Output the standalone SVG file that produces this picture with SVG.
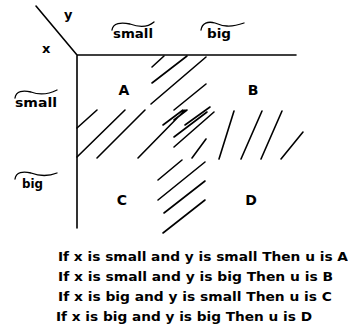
<svg xmlns="http://www.w3.org/2000/svg" width="348" height="325" viewBox="0 0 348 325">
<style>
.ax{stroke:#000;stroke-width:1.6;fill:none;stroke-linecap:round}
.h{stroke:#000;stroke-width:1.6;fill:none;stroke-linecap:round}
.t{stroke:#000;stroke-width:1.3;fill:none;stroke-linecap:round}
.lbl{font-family:"DejaVu Sans",sans-serif;font-weight:bold;font-size:13px;fill:#000}
.cell{font-family:"DejaVu Sans",sans-serif;font-weight:bold;font-size:14px;fill:#000;text-anchor:middle}
.rule{font-family:"DejaVu Sans",sans-serif;font-weight:bold;font-size:13px;fill:#000}
</style>
<rect width="348" height="325" fill="#fff"/>
<g id="axes">
<path class="ax" d="M36,6 L77,55 L296,55 M77,55 L77,228"/>
</g>
<g id="axis-labels">
<text class="lbl" x="64" y="19">y</text>
<text class="lbl" x="42" y="53">x</text>
</g>
<g id="col-small">
<path class="t" d="M112,30 C113,23 121,22 130,24 C138,27 147,28 154,22"/>
<text class="lbl" x="113" y="38" textLength="40" lengthAdjust="spacingAndGlyphs">small</text>
</g>
<g id="col-big">
<path class="t" d="M201,30 C202,23 208,21 215,23 C222,26 230,28 244,23"/>
<text class="lbl" x="207" y="38" textLength="24" lengthAdjust="spacingAndGlyphs">big</text>
</g>
<g id="row-small">
<path class="t" d="M15,98 C16,91 23,90 31,92 C39,95 47,95 57,90"/>
<text class="lbl" x="15" y="107" textLength="42" lengthAdjust="spacingAndGlyphs">small</text>
</g>
<g id="row-big">
<path class="t" d="M15,179 C16,172 23,171 31,173 C39,176 47,177 57,173"/>
<text class="lbl" x="22" y="188" textLength="21" lengthAdjust="spacingAndGlyphs">big</text>
</g>
<g id="cell-A"><text class="cell" x="124" y="95">A</text></g>
<g id="cell-B"><text class="cell" x="253" y="95">B</text></g>
<g id="cell-C"><text class="cell" x="122" y="205">C</text></g>
<g id="cell-D"><text class="cell" x="251" y="205">D</text></g>
<g id="hatching">
<path class="h" d="M152,67 L164,56 M152,83 L187,56 M151,104 L206,57 M174,110 L206,84
M77,128 L97,110 M77,157 L125,110 M97,158 L145,110 M138,158 L185,110
M163,125 L183,110 M185,125 L210,107 M174,120 L187,110 M174,137 L207,112 M174,147 L214,112 M192,158 L206,139
M219,159 L234,111 M241,159 L262,111 M261,159 L282,111 M281,159 L303,132
M158,180 L182,160 M158,200 L205,162 M164,213 L205,181 M163,233 L205,200"/>
</g>
<g id="rules">
<text class="rule" x="58" y="261" textLength="290" lengthAdjust="spacingAndGlyphs">If x is small and y is small Then u is A</text>
<text class="rule" x="58" y="281" textLength="275" lengthAdjust="spacingAndGlyphs">If x is small and y is big Then u is B</text>
<text class="rule" x="58" y="301" textLength="274" lengthAdjust="spacingAndGlyphs">If x is big and y is small Then u is C</text>
<text class="rule" x="56" y="321" textLength="256" lengthAdjust="spacingAndGlyphs">If x is big and y is big Then u is D</text>
</g>
</svg>
